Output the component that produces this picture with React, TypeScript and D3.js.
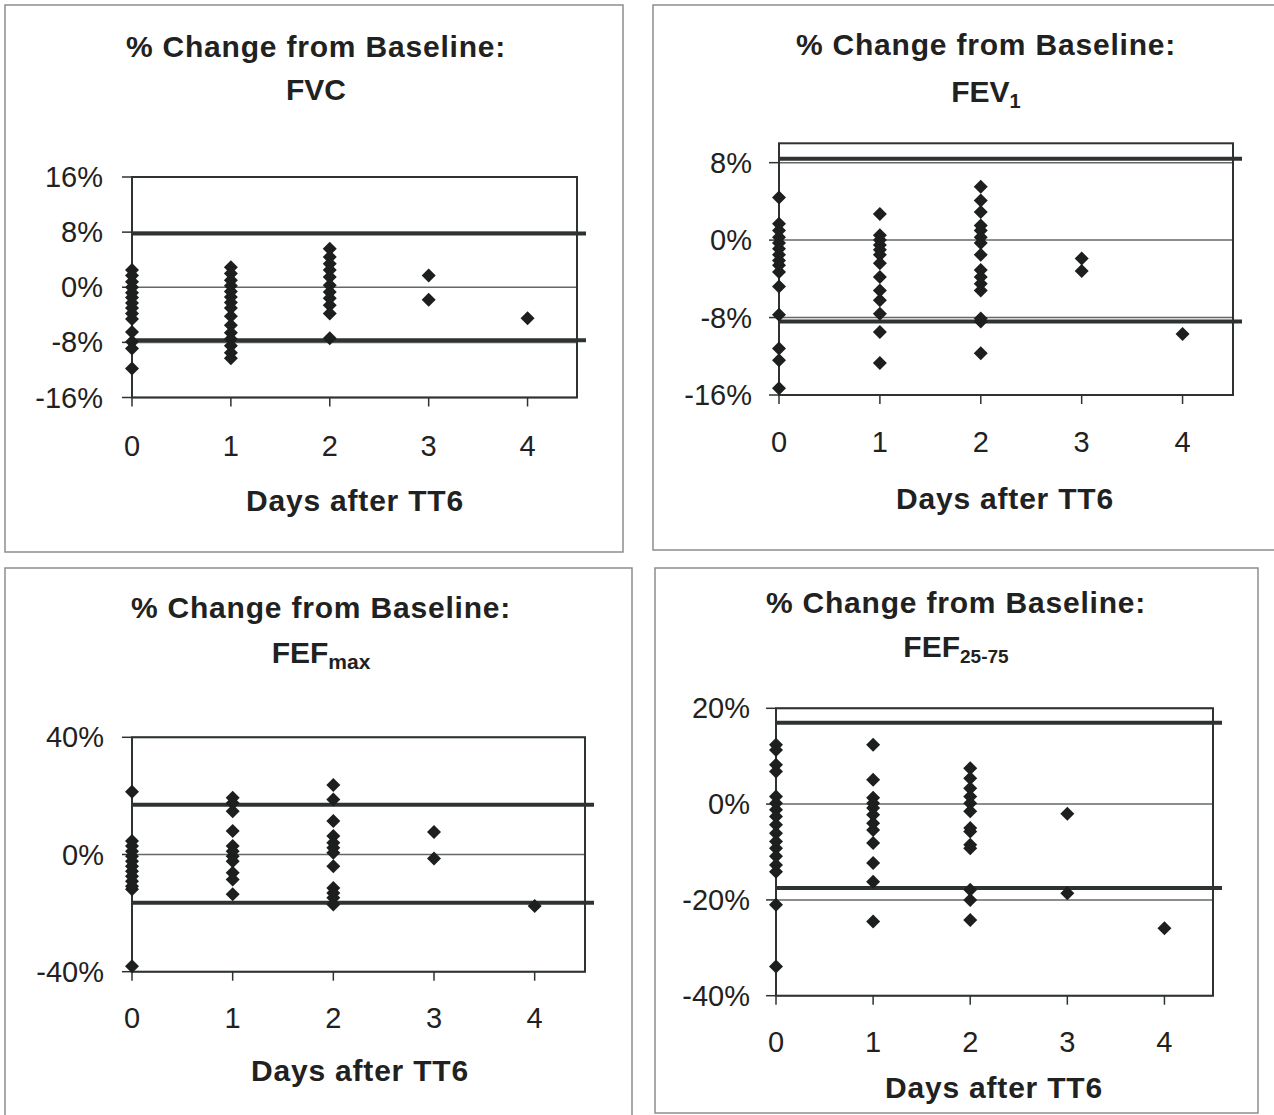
import React from "react";
import * as d3 from "d3";

// Days after TT6 (x positions of the columns)
const DAYS = [0, 1, 2, 3, 4];

// % change from baseline, one list per day
const FVC_VALUES = [
  [2.5, 1.7, 0.8, 0, -0.8, -1.5, -2.3, -3.0, -3.8, -4.6, -6.5, -7.9, -8.9, -11.8],
  [2.9, 2.0, 1.0, 0.2, -0.6, -1.4, -2.2, -3.0, -4.2, -5.5, -6.6, -7.5, -8.5, -9.5, -10.3],
  [5.6, 4.4, 3.4, 2.5, 1.5, 0.3, -0.7, -1.6, -2.6, -3.8, -7.4],
  [1.7, -1.8],
  [-4.5],
];
const FEV1_VALUES = [
  [4.4, 1.7, 1.0, 0.3, -0.3, -0.9, -1.5, -2.1, -2.6, -3.3, -4.8, -7.7, -11.2, -12.4, -15.3],
  [2.7, 0.5, 0, -0.5, -1.0, -1.5, -2.4, -3.8, -5.2, -6.2, -7.6, -9.5, -12.7],
  [5.5, 4.1, 2.9, 1.5, 1.0, 0.3, -0.3, -1.5, -3.1, -3.8, -4.5, -5.2, -8.1, -8.4, -11.7],
  [-1.9, -3.2],
  [-9.7],
];
const FEFMAX_VALUES = [
  [21.4, 4.6, 2.9, 1.1, -0.6, -2.3, -4.0, -5.7, -7.4, -9.1, -10.8, -11.9, -38.1],
  [19.4, 17.6, 14.8, 8.0, 2.9, 1.1, -0.6, -2.3, -6.2, -8.5, -13.6],
  [23.7, 18.8, 11.4, 6.3, 4.0, 2.3, 0.6, -4.0, -11.4, -13.1, -14.8, -17.1],
  [7.7, -1.4],
  [-17.6],
];
const FEF2575_VALUES = [
  [12.4, 11.3, 8.2, 6.8, 1.6, 0.2, -1.2, -2.6, -4.3, -6.1, -7.8, -9.2, -10.9, -12.7, -14.1, -21.0, -33.9],
  [12.4, 5.1, 1.3, 0.2, -0.8, -2.2, -4.0, -5.4, -8.1, -12.3, -16.2, -24.5],
  [7.5, 5.4, 3.3, 1.6, 0.2, -1.5, -5.0, -5.7, -8.5, -9.2, -17.9, -20.0, -24.2],
  [-2.0, -18.6],
  [-25.9],
];

// upper / lower reference limits
const FVC_LIMITS = [7.8, -7.7];
const FEV1_LIMITS = [8.4, -8.4];
const FEFMAX_LIMITS = [17, -16.5];
const FEF2575_LIMITS = [17, -17.5];

// y axis domains and ticks
const FVC_Y = [-16, 16];
const FVC_TICKS = [-16, -8, 0, 8, 16];
const FEV1_Y = [-16, 10];
const FEV1_TICKS = [-16, -8, 0, 8];
const FEFMAX_Y = [-40, 40];
const FEFMAX_TICKS = [-40, 0, 40];
const FEF2575_Y = [-40, 20];
const FEF2575_TICKS = [-40, -20, 0, 20];

const TITLE = "% Change from Baseline:";
const X_TITLE = "Days after TT6";

const INK = "#1f2220";
const FONT = "'Liberation Sans', Arial, sans-serif";

const PANELS = [
  {
    key: "fvc", main: "FVC", sub: "", subSize: 0,
    values: FVC_VALUES, limits: FVC_LIMITS, yDomain: FVC_Y, yTicks: FVC_TICKS,
    box: [5, 5, 623, 552], plot: [132, 577, 177, 397.5],
    titleX: 316, title1Y: 57, title2Y: 100, xTitleX: 355, xTitleY: 511,
    xLabelY: 456, yLabelX: 103,
  },
  {
    key: "fev1", main: "FEV", sub: "1", subSize: 20,
    values: FEV1_VALUES, limits: FEV1_LIMITS, yDomain: FEV1_Y, yTicks: FEV1_TICKS,
    box: [653, 5, 1280, 550], plot: [779, 1233, 143.3, 395],
    titleX: 986, title1Y: 55, title2Y: 102, xTitleX: 1005, xTitleY: 509,
    xLabelY: 452, yLabelX: 752,
  },
  {
    key: "fefmax", main: "FEF", sub: "max", subSize: 21,
    values: FEFMAX_VALUES, limits: FEFMAX_LIMITS, yDomain: FEFMAX_Y, yTicks: FEFMAX_TICKS,
    box: [5, 568, 632, 1125], plot: [132, 585, 737.3, 971.7],
    titleX: 321, title1Y: 618, title2Y: 663, xTitleX: 360, xTitleY: 1081,
    xLabelY: 1028, yLabelX: 104,
  },
  {
    key: "fef2575", main: "FEF", sub: "25-75", subSize: 19,
    values: FEF2575_VALUES, limits: FEF2575_LIMITS, yDomain: FEF2575_Y, yTicks: FEF2575_TICKS,
    box: [655, 568, 1258, 1113], plot: [776, 1213, 708.3, 995.7],
    titleX: 956, title1Y: 613, title2Y: 657, xTitleX: 994, xTitleY: 1098,
    xLabelY: 1052, yLabelX: 750,
  },
];

const diamond = (cx: number, cy: number, r: number) =>
  `M${cx},${cy - r}L${cx + r},${cy}L${cx},${cy + r}L${cx - r},${cy}Z`;

function Panel({ p }: { p: any }) {
  const [bx0, by0, bx1, by1] = p.box;
  const [px0, px1, py0, py1] = p.plot;
  const x = d3.scaleLinear().domain([0, 4.5]).range([px0, px1]);
  const y = d3.scaleLinear().domain(p.yDomain).range([py1, py0]);

  const points = p.values.flatMap((vals: number[], i: number) =>
    vals.map((v) => ({ day: DAYS[i], v }))
  );

  return (
    <g>
      {/* panel frame */}
      <rect x={bx0} y={by0} width={bx1 - bx0} height={by1 - by0}
        fill="#fff" stroke="#8a8f8c" strokeWidth={1.5} />

      {/* title */}
      <text x={p.titleX} y={p.title1Y} textAnchor="middle" fontFamily={FONT}
        fontWeight={700} fontSize={30} letterSpacing={0.8} fill={INK}>{TITLE}</text>
      <text x={p.titleX} y={p.title2Y} textAnchor="middle" fontFamily={FONT}
        fontWeight={700} fontSize={30} fill={INK}>
        {p.main}
        {p.sub && (
          <tspan fontSize={p.subSize} dy={6}>{p.sub}</tspan>
        )}
      </text>

      {/* gridlines */}
      {p.yTicks.map((t: number) => (
        <line key={"g" + t} x1={px0} x2={px1} y1={y(t)} y2={y(t)}
          stroke="#636866" strokeWidth={1.5} />
      ))}

      {/* plot frame */}
      <rect x={px0} y={py0} width={px1 - px0} height={py1 - py0}
        fill="none" stroke="#2e3230" strokeWidth={2} />

      {/* y ticks + labels */}
      {p.yTicks.map((t: number) => (
        <g key={"y" + t}>
          <line x1={px0 - 10} x2={px0} y1={y(t)} y2={y(t)} stroke="#2e3230" strokeWidth={1.5} />
          <text x={p.yLabelX} y={y(t) + 10} textAnchor="end" fontFamily={FONT}
            fontSize={29} fill={INK}>{`${t}%`}</text>
        </g>
      ))}

      {/* x ticks + labels */}
      {DAYS.map((d) => (
        <g key={"x" + d}>
          <line x1={x(d)} x2={x(d)} y1={py1} y2={py1 + 9} stroke="#2e3230" strokeWidth={1.5} />
          <text x={x(d)} y={p.xLabelY} textAnchor="middle" fontFamily={FONT}
            fontSize={29} fill={INK}>{d}</text>
        </g>
      ))}

      {/* reference limits */}
      {p.limits.map((l: number) => (
        <line key={"l" + l} x1={px0} x2={px1 + 9} y1={y(l)} y2={y(l)}
          stroke="#2e3230" strokeWidth={4} />
      ))}

      {/* points */}
      {points.map((d: any, i: number) => (
        <path key={i} d={diamond(x(d.day), y(d.v), 7)} fill="#1c1f1d" />
      ))}

      <text x={p.xTitleX} y={p.xTitleY} textAnchor="middle" fontFamily={FONT}
        fontWeight={700} fontSize={30} letterSpacing={0.8} fill={INK}>{X_TITLE}</text>
    </g>
  );
}

export default function App() {
  return (
    <svg width={1274} height={1115} viewBox="0 0 1274 1115"
      style={{ position: "absolute", left: 0, top: 0, background: "#fff" }}>
      <rect width={1274} height={1115} fill="#fff" />
      {PANELS.map((p) => <Panel key={p.key} p={p} />)}
    </svg>
  );
}
